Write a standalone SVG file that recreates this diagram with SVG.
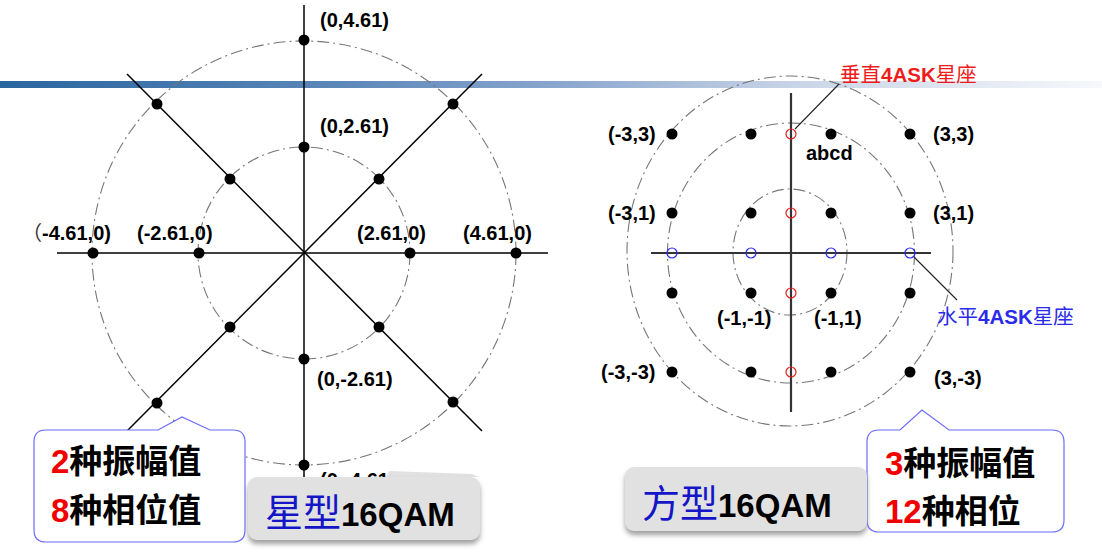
<svg xmlns="http://www.w3.org/2000/svg" width="1102" height="555" viewBox="0 0 1102 555">
<defs>
<linearGradient id="band" x1="0" y1="0" x2="1" y2="0">
<stop offset="0" stop-color="#2a669f"/>
<stop offset="0.3" stop-color="#5a86b8"/>
<stop offset="0.5" stop-color="#88a5cd"/>
<stop offset="0.72" stop-color="#c8d4e7"/>
<stop offset="1" stop-color="#f6f8fb"/>
</linearGradient>
<filter id="shadow" x="-10%" y="-20%" width="120%" height="150%">
<feDropShadow dx="0" dy="4" stdDeviation="2.5" flood-color="#888" flood-opacity="0.8"/>
</filter>
</defs>
<style>
.ring{fill:none;stroke:#777;stroke-width:1.1;stroke-dasharray:12 4 2 4}
.ax{stroke:#000;stroke-width:1.5;fill:none}
.ax2{stroke:#333;stroke-width:2.2;fill:none}
.dot{fill:#000}
.red{fill:none;stroke:#e62020;stroke-width:1.2}
.blue{fill:none;stroke:#2b2bee;stroke-width:1.2}
.lbl{font-family:"Liberation Sans",Arial,sans-serif;font-weight:bold;font-size:20px;fill:#000}
.cjk{font-family:"Noto Sans CJK SC",sans-serif}
.big{font-family:"Liberation Sans","Noto Sans CJK SC",sans-serif;font-weight:bold;font-size:33px;fill:#000}
.num{fill:#f00000}
.callout{fill:#fff;stroke:#6b6bff;stroke-width:1.2}
.box{fill:#e1e1e1}
.lead{stroke:#222;stroke-width:1.1}
</style>
<rect x="0" y="81" width="1102" height="7" fill="url(#band)"/>

<g id="star-16qam">
<g id="star-rings">
<circle class="ring" cx="304" cy="253" r="212"/>
<circle class="ring" cx="304" cy="253" r="106"/>
</g>
<g id="star-axes">
<line class="ax" x1="304" y1="5" x2="304" y2="478"/>
<line class="ax" x1="57" y1="253" x2="548" y2="253"/>
<line class="ax" x1="127" y1="74" x2="482" y2="431"/>
<line class="ax" x1="482" y1="74" x2="127" y2="431"/>
</g>
<g id="star-points">
<circle class="dot" cx="304" cy="40" r="5.5"/>
<circle class="dot" cx="304" cy="147" r="5.5"/>
<circle class="dot" cx="304" cy="359" r="5.5"/>
<circle class="dot" cx="304" cy="465" r="5.5"/>
<circle class="dot" cx="93" cy="253" r="5.5"/>
<circle class="dot" cx="199" cy="253" r="5.5"/>
<circle class="dot" cx="410" cy="253" r="5.5"/>
<circle class="dot" cx="516" cy="253" r="5.5"/>
<circle class="dot" cx="157" cy="104" r="5.5"/>
<circle class="dot" cx="453" cy="104" r="5.5"/>
<circle class="dot" cx="157" cy="403" r="5.5"/>
<circle class="dot" cx="453" cy="402" r="5.5"/>
<circle class="dot" cx="230" cy="179" r="5.5"/>
<circle class="dot" cx="379" cy="179" r="5.5"/>
<circle class="dot" cx="230" cy="327" r="5.5"/>
<circle class="dot" cx="379" cy="327" r="5.5"/>
</g>
<g id="star-labels">
<text class="lbl" x="320" y="27">(0,4.61)</text>
<text class="lbl" x="320" y="133">(0,2.61)</text>
<text class="lbl" x="22" y="240"><tspan class="cjk" font-weight="normal" fill="#333">（</tspan>-4.61,0)</text>
<text class="lbl" x="137" y="240">(-2.61,0)</text>
<text class="lbl" x="357" y="240">(2.61,0)</text>
<text class="lbl" x="463" y="240">(4.61,0)</text>
<text class="lbl" x="317" y="386">(0,-2.61)</text>
<text class="lbl" x="320" y="487">(0,-4.61)</text>
</g>
</g>

<g id="square-16qam">
<g id="square-rings">
<ellipse class="ring" cx="790" cy="252" rx="57" ry="63"/>
<ellipse class="ring" cx="791" cy="253" rx="123.5" ry="130"/>
<ellipse class="ring" cx="790" cy="251" rx="163" ry="175"/>
</g>
<g id="square-axes">
<line class="ax2" x1="791" y1="93" x2="791" y2="412"/>
<line class="ax2" x1="651" y1="253" x2="931" y2="253"/>
</g>
<g id="square-points">
<circle class="dot" cx="672" cy="134" r="5.5"/>
<circle class="dot" cx="751" cy="134" r="5.5"/>
<circle class="dot" cx="831" cy="134" r="5.5"/>
<circle class="dot" cx="910" cy="134" r="5.5"/>
<circle class="dot" cx="672" cy="213" r="5.5"/>
<circle class="dot" cx="751" cy="213" r="5.5"/>
<circle class="dot" cx="831" cy="213" r="5.5"/>
<circle class="dot" cx="910" cy="213" r="5.5"/>
<circle class="dot" cx="672" cy="293" r="5.5"/>
<circle class="dot" cx="751" cy="293" r="5.5"/>
<circle class="dot" cx="831" cy="293" r="5.5"/>
<circle class="dot" cx="910" cy="293" r="5.5"/>
<circle class="dot" cx="672" cy="372" r="5.5"/>
<circle class="dot" cx="751" cy="372" r="5.5"/>
<circle class="dot" cx="831" cy="372" r="5.5"/>
<circle class="dot" cx="910" cy="372" r="5.5"/>
<circle class="red" cx="791" cy="134" r="5"/>
<circle class="red" cx="791" cy="213" r="5"/>
<circle class="red" cx="791" cy="293" r="5"/>
<circle class="red" cx="791" cy="372" r="5"/>
<circle class="blue" cx="672" cy="253" r="5"/>
<circle class="blue" cx="751" cy="253" r="5"/>
<circle class="blue" cx="831" cy="253" r="5"/>
<circle class="blue" cx="910" cy="253" r="5"/>
</g>
<g id="square-labels">
<text class="lbl" x="608" y="141">(-3,3)</text>
<text class="lbl" x="933" y="141">(3,3)</text>
<text class="lbl" x="806" y="160">abcd</text>
<text class="lbl" x="608" y="220">(-3,1)</text>
<text class="lbl" x="933" y="220">(3,1)</text>
<text class="lbl" x="717" y="325">(-1,-1)</text>
<text class="lbl" x="814" y="325">(-1,1)</text>
<text class="lbl" x="601" y="379">(-3,-3)</text>
<text class="lbl" x="934" y="385">(3,-3)</text>
</g>
</g>

<g id="connectors">
<line class="lead" x1="839" y1="84" x2="795" y2="129"/>
<line class="lead" x1="914" y1="257" x2="957" y2="300"/>
</g>

<g id="vertical-4ask-label">
<text x="840" y="82" font-size="20.5" fill="#ee1c1c" font-family="Noto Sans CJK SC,sans-serif">垂直<tspan font-family="Liberation Sans,sans-serif" font-weight="bold">4ASK</tspan>星座</text>
</g>
<g id="horizontal-4ask-label">
<text x="937" y="324" font-size="20.5" fill="#2a2ae8" font-family="Noto Sans CJK SC,sans-serif">水平<tspan font-family="Liberation Sans,sans-serif" font-weight="bold">4ASK</tspan>星座</text>
</g>

<g id="callout-star">
<path class="callout" d="M46,430 L158,430 L182,417 L210,430 L233,430 Q245,430 245,442 L245,530 Q245,542 233,542 L46,542 Q34,542 34,530 L34,442 Q34,430 46,430 Z"/>
<text class="big" x="51" y="473"><tspan class="num">2</tspan><tspan class="cjk">种振幅值</tspan></text>
<text class="big" x="51" y="522"><tspan class="num">8</tspan><tspan class="cjk">种相位值</tspan></text>
</g>

<g id="box-star">
<path class="box" d="M386,477 L389,471 L472,474 L479,477 Z"/>
<rect class="box" x="248" y="477" width="232" height="63" rx="9" filter="url(#shadow)"/>
<text class="big" x="265" y="526"><tspan class="cjk" font-weight="normal" font-size="38" fill="#1515c8">星型</tspan>16QAM</text>
</g>

<g id="callout-square">
<path class="callout" d="M879,430 L900,430 L922,410 L949,430 L1052,430 Q1064,430 1064,442 L1064,520 Q1064,532 1052,532 L879,532 Q867,532 867,520 L867,442 Q867,430 879,430 Z"/>
<text class="big" x="885" y="475"><tspan class="num">3</tspan><tspan class="cjk">种振幅值</tspan></text>
<text class="big" x="885" y="523"><tspan class="num">12</tspan><tspan class="cjk">种相位</tspan></text>
</g>

<g id="box-square">
<rect class="box" x="625" y="467" width="242" height="64" rx="9" filter="url(#shadow)"/>
<text class="big" x="642" y="517"><tspan class="cjk" font-weight="normal" font-size="38" fill="#1515c8">方型</tspan>16QAM</text>
</g>
</svg>
